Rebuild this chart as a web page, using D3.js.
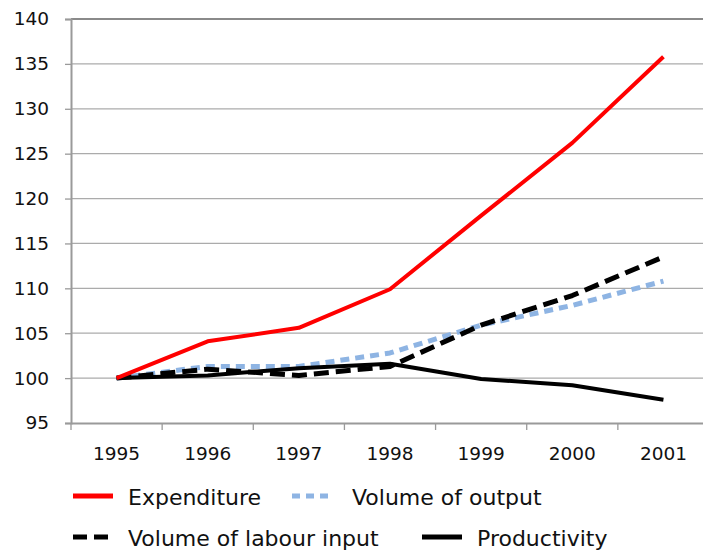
<!DOCTYPE html>
<html><head><meta charset="utf-8">
<script src="https://cdn.jsdelivr.net/npm/d3@7"></script>
<style>body{margin:0;background:#fff}svg{display:block}text{font-family:"DejaVu Sans",sans-serif;fill:#111}</style>
</head><body><svg id="c" width="703" height="552"></svg>
<script>
const years = ["1995","1996","1997","1998","1999","2000","2001"];
const expenditure = [100, 104.1, 105.6, 109.9, 118.1, 126.2, 135.8];
const volumeOutput = [100, 101.3, 101.3, 102.8, 105.9, 108.1, 110.8];
const volumeLabour = [100, 101.0, 100.3, 101.3, 105.9, 109.2, 113.5];
const productivity = [100, 100.3, 101.1, 101.6, 99.9, 99.2, 97.6];
const yTicks = [95,100,105,110,115,120,125,130,135,140];

const series = [
  {name:"Expenditure", values:expenditure, color:"#ff0000", width:4, dash:null},
  {name:"Volume of output", values:volumeOutput, color:"#8eb4e3", width:5, dash:"9,6"},
  {name:"Volume of labour input", values:volumeLabour, color:"#000", width:5, dash:"15,7"},
  {name:"Productivity", values:productivity, color:"#000", width:4, dash:null}
];

const svg = d3.select("#c");
const mLeft = 71, mRight = 709, mTop = 19, mBottom = 423;
const x = d3.scaleBand().domain(years).range([mLeft, mRight]);
const y = d3.scaleLinear().domain([95,140]).range([mBottom, mTop]);

// gridlines
svg.append("g").selectAll("line").data(yTicks.filter(t=>t>95)).join("line")
  .attr("x1", mLeft).attr("x2", 703).attr("y1", d=>y(d)).attr("y2", d=>y(d))
  .attr("stroke", d=> d===140 ? "#8a8a8a" : "#ababab").attr("stroke-width", d=> d===140?2:1.3);

// y axis
const ya = svg.append("g").attr("transform",`translate(${mLeft},0)`)
  .call(d3.axisLeft(y).tickValues(yTicks).tickSize(6).tickPadding(16));
ya.select(".domain").attr("stroke","#9a9a9a").attr("stroke-width",2);
ya.selectAll(".tick line").attr("stroke","#9a9a9a").attr("stroke-width",1.3);
ya.selectAll("text").attr("font-size","18.5px").attr("font-family","DejaVu Sans").attr("fill","#111");

// x axis
const xa = svg.append("g").attr("transform",`translate(0,${mBottom})`)
  .call(d3.axisBottom(x).tickSize(0).tickPadding(24));
xa.select(".domain").attr("stroke","#9a9a9a").attr("stroke-width",2);
xa.selectAll("text").attr("font-size","18.5px").attr("font-family","DejaVu Sans").attr("fill","#111");
// category boundary ticks
svg.append("g").selectAll("line").data(years).join("line")
  .attr("x1", d=>x(d)).attr("x2", d=>x(d)).attr("y1", mBottom).attr("y2", mBottom+7)
  .attr("stroke","#9a9a9a").attr("stroke-width",1.3);

const line = d3.line().x((d,i)=>x(years[i])+x.bandwidth()/2).y(d=>y(d));
[series[1], series[2], series[3], series[0]].forEach(s=>{
  svg.append("path").attr("d", line(s.values)).attr("fill","none")
    .attr("stroke", s.color).attr("stroke-width", s.width)
    .attr("stroke-dasharray", s.dash).attr("stroke-linejoin","round");
});

// legend
const legendPos = [
  {x1:73, x2:113, ly:496, tx:128, ty:505},
  {x1:292, x2:334, ly:496, tx:352, ty:505},
  {x1:73, x2:113, ly:537, tx:128, ty:546},
  {x1:422, x2:462, ly:537, tx:477, ty:546}
];
series.forEach((s,i)=>{
  const p = legendPos[i];
  const g = svg.append("g");
  g.append("line").attr("x1",p.x1).attr("x2",p.x2).attr("y1",p.ly).attr("y2",p.ly)
    .attr("stroke",s.color).attr("stroke-width", 5)
    .attr("stroke-dasharray", s.dash ? (s.color==="#000" ? "14,7" : "8,6") : null);
  g.append("text").attr("x",p.tx).attr("y",p.ty).attr("font-size","22px").text(s.name);
});
</script></body></html>
